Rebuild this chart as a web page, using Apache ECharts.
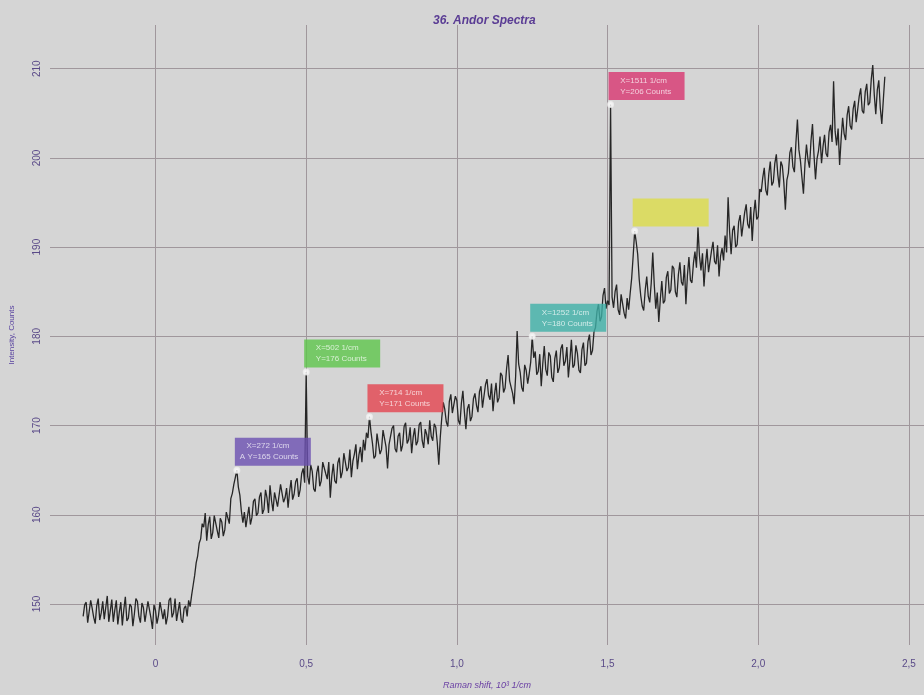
<!DOCTYPE html>
<html><head><meta charset="utf-8">
<script src="https://cdn.jsdelivr.net/npm/echarts@6/dist/echarts.min.js"></script>
<style>html,body{margin:0;padding:0;background:#d5d5d5}#c{width:924px;height:695px}</style>
</head><body><div id="c"></div>
<script>
const chartTitle = '36. Andor Spectra';
const xAxisName = 'Raman shift, 10³ 1/cm';
const yAxisName = 'Intensity, Counts';
const xTickValues = [0, 0.5, 1.0, 1.5, 2.0, 2.5];
const xTickLabels = ['0', '0,5', '1,0', '1,5', '2,0', '2,5'];
const yTickValues = [150, 160, 170, 180, 190, 200, 210];
const yTickLabels = ['150', '160', '170', '180', '190', '200', '210'];

// Raman shift sampling grid (10^3 1/cm)
const shiftStart = -0.24;
const shiftStep = 0.005;
// Intensity, Counts
const intensity = [
  148.6, 149.9, 150.2, 147.9, 148.1, 150.4, 149.5, 148.5, 147.8, 149.8, 150.6, 148.2, 149.0, 150.3, 148.3, 149.6, 150.9, 148.0, 149.2, 150.5,
  148.0, 149.3, 150.4, 147.7, 149.1, 150.2, 147.6, 149.4, 150.8, 148.1, 148.4, 150.0, 149.7, 147.5, 148.9, 150.6, 150.3, 148.6, 147.9, 150.1,
  149.6, 148.0, 148.2, 150.3, 150.5, 148.4, 147.2, 149.9, 149.3, 147.8, 148.7, 150.2, 150.1, 148.3, 149.4, 147.7, 148.6, 150.4, 150.7, 148.5,
  149.0, 150.6, 148.1, 149.2, 150.2, 148.3, 147.9, 149.5, 149.8, 148.6, 150.4, 149.7, 151.0, 152.1, 153.2, 154.6, 155.4, 156.8, 157.3, 159.0,
  158.6, 160.2, 157.1, 158.9, 159.8, 157.3, 158.0, 159.9, 160.1, 158.2, 157.4, 159.6, 159.2, 157.6, 158.3, 160.3, 160.5, 159.0, 161.8, 162.4,
  163.4, 164.2, 165.0, 163.1, 162.2, 160.4, 159.1, 160.3, 158.6, 159.8, 160.9, 158.9, 159.7, 161.5, 161.8, 159.9, 160.2, 162.0, 162.5, 160.1,
  160.6, 162.8, 161.9, 160.2, 163.3, 161.6, 160.4, 162.5, 162.7, 160.9, 161.1, 163.4, 163.6, 161.4, 161.9, 163.0, 160.8, 162.6, 163.9, 161.7,
  162.3, 163.7, 164.1, 162.0, 162.8, 164.6, 165.2, 163.6, 176.0, 164.3, 163.4, 165.6, 164.9, 162.9, 162.6, 164.7, 165.5, 163.2, 163.8, 165.9,
  166.1, 164.6, 164.0, 165.9, 161.9, 164.3, 165.7, 163.8, 163.5, 165.8, 166.4, 164.1, 164.8, 166.9, 167.0, 164.9, 165.3, 167.3, 164.2, 166.0,
  166.8, 167.9, 165.1, 166.7, 167.6, 165.9, 168.4, 167.2, 169.2, 168.6, 171.0, 169.3, 168.0, 166.3, 166.6, 169.1, 168.9, 166.8, 167.3, 169.5,
  169.4, 167.6, 165.2, 167.9, 168.1, 169.7, 170.0, 167.4, 167.0, 168.8, 169.2, 167.1, 167.8, 169.9, 170.3, 168.0, 168.4, 169.8, 166.9, 168.7,
  169.7, 167.8, 168.2, 170.1, 170.4, 168.3, 167.5, 169.6, 169.0, 167.9, 170.6, 168.8, 168.3, 170.2, 169.8, 168.1, 165.6, 168.7, 170.9, 172.6,
  171.8, 170.4, 169.9, 172.7, 173.5, 171.4, 171.2, 173.3, 172.8, 170.6, 170.1, 172.5, 173.9, 171.5, 169.6, 171.9, 172.4, 170.5, 171.0, 173.0,
  173.6, 172.3, 171.5, 173.8, 174.4, 172.0, 172.2, 174.6, 175.2, 173.4, 172.9, 174.7, 171.6, 173.5, 174.8, 172.6, 173.1, 175.9, 175.6, 173.7,
  174.2, 176.4, 177.9, 175.0, 175.1, 173.6, 172.4, 175.5, 180.6, 176.9, 176.0, 174.3, 173.8, 176.8, 176.2, 174.7, 175.8, 177.1, 180.0, 177.6,
  178.3, 175.7, 176.1, 178.0, 174.4, 176.9, 178.9, 176.3, 175.6, 178.2, 177.8, 175.4, 174.9, 177.5, 178.4, 175.9, 176.5, 178.6, 179.1, 176.7,
  177.2, 178.8, 175.4, 177.3, 179.6, 176.5, 176.8, 179.0, 178.1, 176.2, 175.9, 178.5, 179.3, 176.7, 177.0, 179.4, 180.2, 177.9, 178.4, 180.5,
  181.0, 182.8, 183.6, 181.7, 182.2, 184.6, 185.4, 183.1, 184.0, 183.5, 206.0, 184.4, 183.2, 185.0, 185.8, 183.0, 182.4, 184.7, 184.9, 182.6,
  182.0, 184.3, 183.0, 184.8, 186.5, 189.0, 191.8, 190.6, 189.2, 186.4, 184.6, 183.4, 182.9, 185.2, 186.7, 184.5, 183.8, 186.0, 189.4, 185.8,
  183.1, 184.9, 181.6, 184.1, 186.2, 183.7, 184.0, 186.6, 187.3, 184.8, 185.2, 187.9, 187.6, 185.0, 184.4, 186.9, 188.3, 186.1, 185.7, 188.0,
  183.6, 186.8, 188.9, 186.3, 186.0, 188.2, 189.5, 187.7, 192.2, 189.0, 187.4, 189.3, 185.6, 188.1, 189.8, 187.2, 187.0, 189.6, 190.6, 188.4,
  188.1, 190.2, 186.7, 189.0, 189.9, 188.5, 191.3, 189.4, 195.6, 191.7, 189.2, 191.9, 192.4, 190.0, 190.3, 192.8, 193.6, 191.2, 191.0, 193.9,
  194.8, 192.6, 192.1, 194.5, 190.7, 193.7, 195.3, 193.1, 193.4, 196.5, 196.2, 197.8, 198.9, 196.4, 195.8, 198.2, 199.6, 196.9, 197.3, 199.4,
  200.4, 198.1, 196.7, 199.6, 199.1, 197.2, 194.2, 197.5, 198.3, 200.6, 201.2, 199.0, 198.4, 201.7, 204.3, 200.9, 199.7, 197.8, 196.0, 199.3,
  201.5, 199.8, 198.9, 201.9, 203.8, 200.3, 197.6, 199.9, 200.8, 202.4, 199.4, 201.3, 202.6, 200.5, 200.1, 202.9, 203.7, 201.8, 208.6, 203.0,
  201.4, 203.3, 199.2, 202.1, 204.5, 202.7, 202.0, 204.8, 205.8, 203.6, 203.2, 205.5, 206.4, 204.0, 204.1, 206.9, 207.8, 205.3, 205.0, 207.4,
  208.3, 205.9, 206.2, 208.8, 210.4, 207.1, 204.9, 207.6, 208.7, 205.6, 203.8, 206.5, 209.1
];

const markerShift = [0.27, 0.50, 0.71, 1.25, 1.51, 1.59];
const markerText = [
  '   X=272 1/cm\nA Y=165 Counts',
  '   X=502 1/cm\n   Y=176 Counts',
  '   X=714 1/cm\n   Y=171 Counts',
  '   X=1252 1/cm\n   Y=180 Counts',
  '   X=1511 1/cm\n   Y=206 Counts',
  ' \n '
];
const markerColors = ['#6b50b2', '#5ec54b', '#e4434f', '#3eb0a7', '#d83670', '#dcdc48'];

const spectrum = intensity.map((v, i) => [+(shiftStart + i * shiftStep).toFixed(3), v]);
const markers = markerShift.map((mx, k) => {
  const idx = Math.round((mx - shiftStart) / shiftStep);
  return {
    value: spectrum[idx],
    label: { formatter: markerText[k], backgroundColor: markerColors[k] }
  };
});

const gridColor = '#a0979c';
const labelColor = '#5a4a88';

const chart = echarts.init(document.getElementById('c'));
chart.setOption({
  animation: false,
  backgroundColor: '#d5d5d5',
  title: {
    text: chartTitle, left: 428, top: 10,
    textStyle: { fontSize: 12, fontWeight: 'bold', fontStyle: 'italic', color: '#5a3c94', fontFamily: 'Liberation Sans' }
  },
  grid: { left: 46, right: 0, top: 25, bottom: 45 },
  xAxis: {
    type: 'value', min: -0.35, max: 2.55,
    name: xAxisName, nameLocation: 'middle', nameGap: 36,
    nameTextStyle: { fontSize: 9, fontStyle: 'italic', color: '#6a40a4', fontFamily: 'Liberation Sans' },
    axisLine: { show: false },
    axisTick: { show: false, customValues: xTickValues },
    axisLabel: {
      customValues: xTickValues, margin: 14, fontSize: 10, color: labelColor, fontFamily: 'Liberation Sans',
      formatter: v => { const i = xTickValues.findIndex(t => Math.abs(t - v) < 1e-9); return i >= 0 ? xTickLabels[i] : ''; }
    },
    splitLine: { show: true, lineStyle: { color: gridColor, width: 1 } }
  },
  yAxis: {
    type: 'value', min: 145.4, max: 214.9,
    name: yAxisName, nameLocation: 'middle', nameGap: 34, nameRotate: 90,
    nameTextStyle: { fontSize: 8, color: '#5a44a0', fontFamily: 'Liberation Sans' },
    axisLine: { show: false },
    axisTick: { show: false, customValues: yTickValues },
    axisLabel: {
      customValues: yTickValues, rotate: 90, margin: 8, fontSize: 10, color: labelColor, fontFamily: 'Liberation Sans',
      formatter: v => { const i = yTickValues.findIndex(t => Math.abs(t - v) < 1e-9); return i >= 0 ? yTickLabels[i] : ''; }
    },
    splitLine: { show: true, lineStyle: { color: gridColor, width: 1 } }
  },
  series: [
    {
      type: 'line', data: spectrum, showSymbol: false, z: 2,
      lineStyle: { color: '#262626', width: 1.3 }
    },
    {
      type: 'scatter', data: markers, z: 4,
      symbol: 'emptyCircle', symbolSize: 5,
      itemStyle: { color: '#f0f0f0', borderColor: '#555', borderWidth: 1 },
      label: {
        show: true, position: 'top', distance: 1, align: 'left', verticalAlign: 'bottom', offset: [-2, 0],
        color: 'rgba(255,255,255,0.9)', fontSize: 8, lineHeight: 11, fontFamily: 'Liberation Sans',
        width: 66, padding: [3, 5, 3, 5]
      }
    }
  ]
});
</script></body></html>
